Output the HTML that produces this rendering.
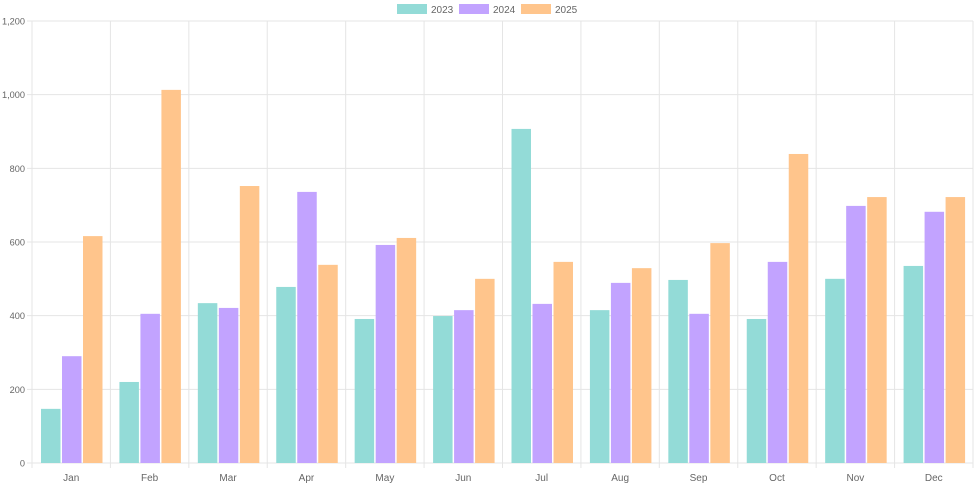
<!DOCTYPE html>
<html><head><meta charset="utf-8"><style>
html,body{margin:0;padding:0;background:#fff;}
svg{display:block;font-family:"Liberation Sans",Arial,sans-serif;}
</style></head><body>
<svg id="c" width="975" height="488" viewBox="0 0 975 488" xmlns="http://www.w3.org/2000/svg"></svg>
<script>
var s='';
var L=32,R=973,T=21,B=463,k=(B-T)/1200;
var lg=[[397,'#93dbd7','2023'],[459,'#c2a3ff','2024'],[521,'#ffc58c','2025']];
lg.forEach(function(l){s+='<rect x="'+l[0]+'" y="4" width="30" height="10" fill="'+l[1]+'"/><text x="'+(l[0]+34)+'" y="13" font-size="10" fill="#666">'+l[2]+'</text>';});
for(var v=0;v<=1200;v+=200){var y=B-v*k;s+='<line x1="'+(L-5)+'" x2="'+R+'" y1="'+y+'" y2="'+y+'" stroke="#e5e5e5" stroke-width="1"/>';
s+='<text x="'+(L-7)+'" y="'+(y+3.5)+'" font-size="9.2" fill="#666" text-anchor="end">'+(v>=1000?'1,'+String(v-1000).padStart(3,'0'):v)+'</text>';}
var w=(R-L)/12;
for(var i=0;i<=12;i++){var x=L+i*w;s+='<line x1="'+x+'" x2="'+x+'" y1="'+T+'" y2="'+(B+5)+'" stroke="#e5e5e5" stroke-width="1"/>';}
var m=['Jan','Feb','Mar','Apr','May','Jun','Jul','Aug','Sep','Oct','Nov','Dec'];
var d=[[147,290,616],[220,405,1013],[434,421,752],[478,736,538],[391,592,611],[399,415,500],[907,432,546],[415,489,529],[497,405,597],[391,546,839],[500,698,722],[535,682,722]];
var col=['#93dbd7','#c2a3ff','#ffc58c'];
for(var i=0;i<12;i++){var x0=L+i*w+9;
for(var j=0;j<3;j++){var h=d[i][j]*k;s+='<rect x="'+(x0+j*21)+'" y="'+(B-h)+'" width="19.5" height="'+h+'" fill="'+col[j]+'"/>';}
s+='<text x="'+(L+i*w+w/2)+'" y="481" font-size="10" fill="#666" text-anchor="middle">'+m[i]+'</text>';}
document.getElementById('c').innerHTML=s;
</script>
</body></html>
